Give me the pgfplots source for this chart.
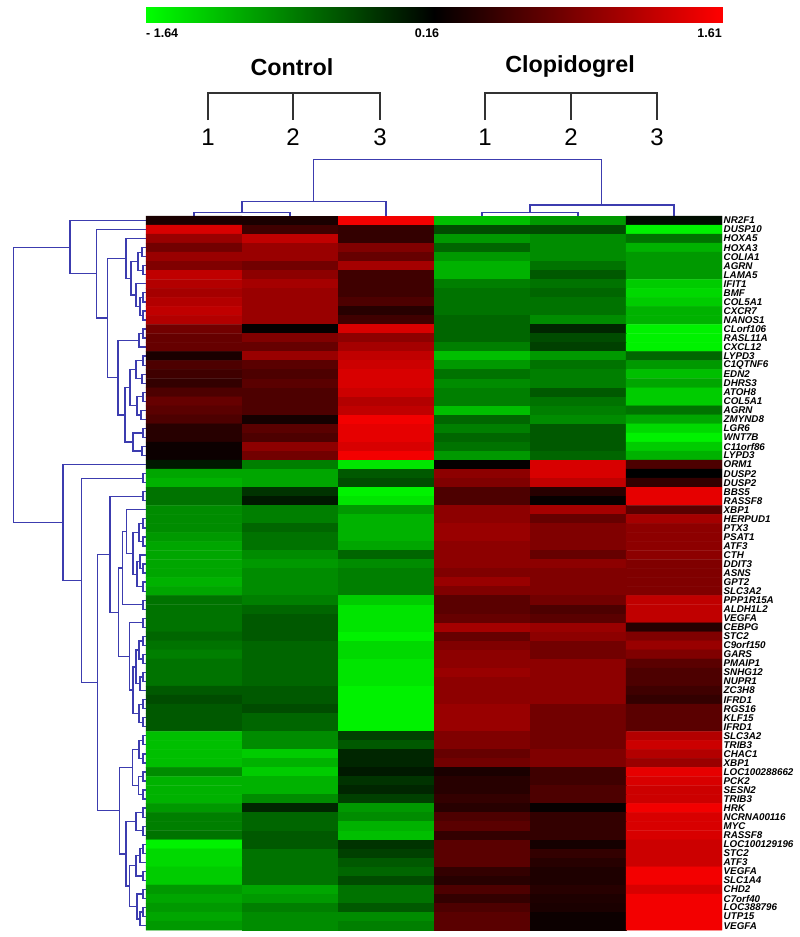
\documentclass[border=0pt]{standalone}
\usepackage{fontspec}
\setmainfont{Liberation Sans}
\usepackage{pgfplots}
\pgfplotsset{compat=1.18}
\definecolor{dendro}{RGB}{60,60,175}
\definecolor{brk}{RGB}{50,50,50}
\begin{document}
\begin{tikzpicture}
\begin{axis}[at={(0,0)}, anchor=south west, scale only axis, width=800pt, height=937pt,
  xmin=0, xmax=800, ymin=0, ymax=937, y dir=reverse, hide axis, clip=false,
  colormap={mev}{rgb255(0pt)=(0,255,0); rgb255(180pt)=(0,0,0); rgb255(325pt)=(255,0,0)},
  point meta min=-1.64, point meta max=1.61, unbounded coords=jump]
% colour bar
\addplot[surf, shader=interp, mesh/cols=3, point meta=explicit] coordinates {
 (146,7) [-1.64] (434,7) [0.16] (722,7) [1.61]
 (146,23) [-1.64] (434,23) [0.16] (722,23) [1.61]};
% group brackets
\addplot[brk, line width=1.4pt] table[header=false, row sep=\\, x index=0, y index=1] {
208 120\\ 208 93\\ 380 93\\ 380 120\\ nan nan\\ 293 93\\ 293 120\\ nan nan\\
485 120\\ 485 93\\ 657 93\\ 657 120\\ nan nan\\ 571 93\\ 571 120\\
};
% column dendrogram
\addplot[dendro, line width=1.4pt] table[header=false, row sep=\\, x index=0, y index=1] {
194 216\\ 194 212.7\\ 290 212.7\\ 290 216\\ nan nan\\
242 212.7\\ 242 201.7\\ 386 201.7\\ 386 216\\ nan nan\\
313.5 201.7\\ 313.5 159.3\\ 601.7 159.3\\ 601.7 205\\ nan nan\\
482 216\\ 482 212.7\\ 578 212.7\\ 578 216\\ nan nan\\
530 212.7\\ 530 205\\ 674 205\\ 674 216\\
};
% row dendrogram
\addplot[dendro, line width=1.3pt] table[header=false, row sep=\\, x index=0, y index=1] {
146 292.84\\ 143 292.84\\ 143 301.88\\ 146 301.88\\ nan nan\\
146 310.92\\ 143 310.92\\ 143 319.96\\ 146 319.96\\ nan nan\\
143 297.36\\ 140 297.36\\ 140 315.44\\ 143 315.44\\ nan nan\\
146 283.80\\ 136 283.80\\ 136 306.40\\ 140 306.40\\ nan nan\\
146 265.72\\ 143 265.72\\ 143 274.76\\ 146 274.76\\ nan nan\\
146 247.64\\ 142 247.64\\ 142 256.68\\ 146 256.68\\ nan nan\\
142 252.16\\ 138 252.16\\ 138 270.24\\ 143 270.24\\ nan nan\\
138 261.20\\ 131 261.20\\ 131 295.10\\ 136 295.10\\ nan nan\\
146 238.60\\ 126 238.60\\ 126 278.15\\ 131 278.15\\ nan nan\\
146 329.00\\ 143 329.00\\ 143 338.04\\ 146 338.04\\ nan nan\\
143 333.52\\ 139 333.52\\ 139 347.08\\ 146 347.08\\ nan nan\\
146 356.12\\ 143 356.12\\ 143 365.16\\ 146 365.16\\ nan nan\\
146 374.20\\ 142 374.20\\ 142 383.24\\ 146 383.24\\ nan nan\\
143 360.64\\ 136 360.64\\ 136 378.72\\ 142 378.72\\ nan nan\\
146 392.28\\ 143 392.28\\ 143 401.32\\ 146 401.32\\ nan nan\\
146 410.36\\ 141 410.36\\ 141 419.40\\ 146 419.40\\ nan nan\\
143 396.80\\ 137 396.80\\ 137 414.88\\ 141 414.88\\ nan nan\\
136 369.68\\ 130 369.68\\ 130 405.84\\ 137 405.84\\ nan nan\\
146 428.44\\ 143 428.44\\ 143 437.48\\ 146 437.48\\ nan nan\\
146 446.52\\ 142 446.52\\ 142 455.56\\ 146 455.56\\ nan nan\\
143 432.96\\ 133 432.96\\ 133 451.04\\ 142 451.04\\ nan nan\\
130 387.76\\ 125 387.76\\ 125 442.00\\ 133 442.00\\ nan nan\\
139 340.30\\ 118 340.30\\ 118 414.88\\ 125 414.88\\ nan nan\\
126 258.38\\ 107.3 258.38\\ 107.3 377.59\\ 118 377.59\\ nan nan\\
146 229.56\\ 96.7 229.56\\ 96.7 317.99\\ 107.3 317.99\\ nan nan\\
146 220.52\\ 70 220.52\\ 70 273.78\\ 96.7 273.78\\ nan nan\\
70 247.15\\ 13.3 247.15\\ 13.3 522.46\\ 63 522.46\\ nan nan\\
146 473.64\\ 143 473.64\\ 143 482.68\\ 146 482.68\\ nan nan\\
146 491.72\\ 143 491.72\\ 143 500.76\\ 146 500.76\\ nan nan\\
146 518.84\\ 143 518.84\\ 143 527.88\\ 146 527.88\\ nan nan\\
146 536.92\\ 143 536.92\\ 143 545.96\\ 146 545.96\\ nan nan\\
143 523.36\\ 139 523.36\\ 139 541.44\\ 143 541.44\\ nan nan\\
146 564.04\\ 143 564.04\\ 143 573.08\\ 146 573.08\\ nan nan\\
146 555.00\\ 140 555.00\\ 140 568.56\\ 143 568.56\\ nan nan\\
146 582.12\\ 143 582.12\\ 143 591.16\\ 146 591.16\\ nan nan\\
140 561.78\\ 137 561.78\\ 137 586.64\\ 143 586.64\\ nan nan\\
139 532.40\\ 133 532.40\\ 133 574.21\\ 137 574.21\\ nan nan\\
146 509.80\\ 126.7 509.80\\ 126.7 553.31\\ 133 553.31\\ nan nan\\
146 600.20\\ 143 600.20\\ 143 609.24\\ 146 609.24\\ nan nan\\
126.7 531.55\\ 122.7 531.55\\ 122.7 604.72\\ 143 604.72\\ nan nan\\
146 618.28\\ 143 618.28\\ 143 627.32\\ 146 627.32\\ nan nan\\
146 636.36\\ 143 636.36\\ 143 645.40\\ 146 645.40\\ nan nan\\
146 654.44\\ 143 654.44\\ 143 663.48\\ 146 663.48\\ nan nan\\
143 640.88\\ 139 640.88\\ 139 658.96\\ 143 658.96\\ nan nan\\
146 672.52\\ 143 672.52\\ 143 681.56\\ 146 681.56\\ nan nan\\
143 677.04\\ 140 677.04\\ 140 690.60\\ 146 690.60\\ nan nan\\
139 649.92\\ 136 649.92\\ 136 683.82\\ 140 683.82\\ nan nan\\
146 699.64\\ 143 699.64\\ 143 708.68\\ 146 708.68\\ nan nan\\
146 717.72\\ 143 717.72\\ 143 726.76\\ 146 726.76\\ nan nan\\
143 704.16\\ 139 704.16\\ 139 722.24\\ 143 722.24\\ nan nan\\
136 666.87\\ 133 666.87\\ 133 713.20\\ 139 713.20\\ nan nan\\
143 622.80\\ 129.3 622.80\\ 129.3 690.04\\ 133 690.04\\ nan nan\\
122.7 568.14\\ 118.3 568.14\\ 118.3 656.42\\ 129.3 656.42\\ nan nan\\
143 496.24\\ 110 496.24\\ 110 612.28\\ 118.3 612.28\\ nan nan\\
146 735.80\\ 143 735.80\\ 143 744.84\\ 146 744.84\\ nan nan\\
146 753.88\\ 143 753.88\\ 143 762.92\\ 146 762.92\\ nan nan\\
143 740.32\\ 139 740.32\\ 139 758.40\\ 143 758.40\\ nan nan\\
146 771.96\\ 143 771.96\\ 143 781.00\\ 146 781.00\\ nan nan\\
146 790.04\\ 143 790.04\\ 143 799.08\\ 146 799.08\\ nan nan\\
143 776.48\\ 138.5 776.48\\ 138.5 794.56\\ 143 794.56\\ nan nan\\
139 749.36\\ 132.7 749.36\\ 132.7 785.52\\ 138.5 785.52\\ nan nan\\
146 808.12\\ 143 808.12\\ 143 817.16\\ 146 817.16\\ nan nan\\
146 826.20\\ 143 826.20\\ 143 835.24\\ 146 835.24\\ nan nan\\
143 812.64\\ 136 812.64\\ 136 830.72\\ 143 830.72\\ nan nan\\
146 844.28\\ 143 844.28\\ 143 853.32\\ 146 853.32\\ nan nan\\
143 848.80\\ 140 848.80\\ 140 862.36\\ 146 862.36\\ nan nan\\
146 871.40\\ 143 871.40\\ 143 880.44\\ 146 880.44\\ nan nan\\
140 855.58\\ 136 855.58\\ 136 875.92\\ 143 875.92\\ nan nan\\
146 889.48\\ 143 889.48\\ 143 898.52\\ 146 898.52\\ nan nan\\
146 907.56\\ 143 907.56\\ 143 916.60\\ 146 916.60\\ nan nan\\
143 912.08\\ 140 912.08\\ 140 925.64\\ 146 925.64\\ nan nan\\
143 894.00\\ 137 894.00\\ 137 918.86\\ 140 918.86\\ nan nan\\
136 865.75\\ 129.3 865.75\\ 129.3 906.43\\ 137 906.43\\ nan nan\\
136 821.68\\ 126 821.68\\ 126 886.09\\ 129.3 886.09\\ nan nan\\
132.7 767.44\\ 119.3 767.44\\ 119.3 853.89\\ 126 853.89\\ nan nan\\
110 554.26\\ 97.3 554.26\\ 97.3 810.66\\ 119.3 810.66\\ nan nan\\
143 478.16\\ 81.7 478.16\\ 81.7 682.46\\ 97.3 682.46\\ nan nan\\
146 464.60\\ 63 464.60\\ 63 580.31\\ 81.7 580.31\\
};
% heatmap: one gene per line, columns Control 1-3, Clopidogrel 1-3
\addplot[matrix plot*, mesh/cols=6, point meta=explicit] table[header=false, row sep=\\,
  x expr={194+96*mod(\coordindex,6)}, y expr={211.48+9.04*(floor((\coordindex+0.5)/6)+1)}, meta index=0] {
0.31\\ 0.31\\ 1.54\\ -1.19\\ -0.92\\ 0.07\\
1.39\\ 0.52\\ 0.45\\ -0.38\\ -0.38\\ -1.55\\
1.03\\ 1.25\\ 0.45\\ -0.92\\ -0.83\\ -0.65\\
0.81\\ 1.03\\ 0.89\\ -0.56\\ -0.83\\ -1.10\\
1.03\\ 1.03\\ 0.74\\ -0.92\\ -0.83\\ -0.92\\
0.89\\ 0.81\\ 1.10\\ -1.10\\ -0.65\\ -0.92\\
1.25\\ 0.96\\ 0.52\\ -1.10\\ -0.47\\ -0.92\\
1.18\\ 1.10\\ 0.52\\ -0.74\\ -0.65\\ -1.28\\
1.10\\ 1.03\\ 0.52\\ -0.65\\ -0.56\\ -1.37\\
1.18\\ 1.03\\ 0.60\\ -0.65\\ -0.65\\ -1.28\\
1.25\\ 1.03\\ 0.38\\ -0.65\\ -0.65\\ -1.10\\
1.18\\ 1.03\\ 0.52\\ -0.56\\ -0.83\\ -1.10\\
0.81\\ 0.19\\ 1.39\\ -0.56\\ -0.11\\ -1.55\\
0.74\\ 0.89\\ 0.96\\ -0.56\\ -0.38\\ -1.55\\
0.74\\ 0.74\\ 1.10\\ -0.74\\ -0.29\\ -1.55\\
0.31\\ 1.03\\ 1.25\\ -1.19\\ -0.92\\ -0.56\\
0.60\\ 0.67\\ 1.32\\ -0.92\\ -0.65\\ -0.92\\
0.52\\ 0.60\\ 1.39\\ -0.65\\ -0.74\\ -1.19\\
0.45\\ 0.67\\ 1.39\\ -0.83\\ -0.74\\ -1.01\\
0.60\\ 0.60\\ 1.32\\ -0.74\\ -0.47\\ -1.28\\
0.74\\ 0.60\\ 1.18\\ -0.74\\ -0.65\\ -1.28\\
0.67\\ 0.60\\ 1.25\\ -1.19\\ -0.74\\ -0.65\\
0.60\\ 0.28\\ 1.54\\ -0.56\\ -0.83\\ -1.01\\
0.38\\ 0.67\\ 1.47\\ -0.74\\ -0.47\\ -1.37\\
0.38\\ 0.60\\ 1.47\\ -0.56\\ -0.47\\ -1.55\\
0.23\\ 0.96\\ 1.39\\ -0.65\\ -0.47\\ -1.28\\
0.23\\ 0.81\\ 1.54\\ -0.92\\ -0.56\\ -1.10\\
-0.02\\ -0.74\\ -1.46\\ 0.19\\ 1.39\\ 0.60\\
-1.01\\ -1.01\\ -0.47\\ 0.96\\ 1.39\\ 0.16\\
-1.10\\ -1.01\\ -0.38\\ 0.89\\ 1.25\\ 0.45\\
-0.65\\ -0.20\\ -1.55\\ 0.60\\ 0.38\\ 1.47\\
-0.65\\ -0.02\\ -1.46\\ 0.60\\ 0.20\\ 1.47\\
-0.83\\ -0.74\\ -0.92\\ 0.96\\ 1.10\\ 0.67\\
-0.83\\ -0.74\\ -1.10\\ 0.96\\ 0.74\\ 1.10\\
-0.83\\ -0.56\\ -1.10\\ 1.03\\ 0.89\\ 0.96\\
-0.92\\ -0.65\\ -1.10\\ 1.03\\ 0.89\\ 0.96\\
-1.01\\ -0.65\\ -1.01\\ 0.96\\ 0.89\\ 0.96\\
-1.01\\ -0.83\\ -0.56\\ 0.96\\ 0.74\\ 0.96\\
-1.01\\ -0.92\\ -0.83\\ 0.96\\ 0.96\\ 0.89\\
-1.01\\ -0.83\\ -0.74\\ 0.89\\ 0.89\\ 0.89\\
-1.10\\ -0.83\\ -0.74\\ 1.03\\ 0.89\\ 0.89\\
-1.01\\ -0.83\\ -0.74\\ 0.89\\ 0.89\\ 0.89\\
-0.65\\ -0.74\\ -1.28\\ 0.67\\ 0.81\\ 1.25\\
-0.65\\ -0.56\\ -1.46\\ 0.67\\ 0.60\\ 1.25\\
-0.65\\ -0.47\\ -1.46\\ 0.74\\ 0.67\\ 1.25\\
-0.65\\ -0.47\\ -1.46\\ 1.10\\ 1.03\\ 0.38\\
-0.56\\ -0.47\\ -1.55\\ 0.74\\ 0.96\\ 0.89\\
-0.65\\ -0.56\\ -1.37\\ 0.89\\ 0.81\\ 1.03\\
-0.74\\ -0.56\\ -1.37\\ 0.96\\ 0.81\\ 0.89\\
-0.65\\ -0.56\\ -1.46\\ 0.96\\ 0.96\\ 0.67\\
-0.65\\ -0.56\\ -1.46\\ 1.03\\ 0.96\\ 0.60\\
-0.65\\ -0.56\\ -1.46\\ 0.96\\ 0.96\\ 0.60\\
-0.47\\ -0.47\\ -1.55\\ 0.96\\ 0.96\\ 0.52\\
-0.38\\ -0.47\\ -1.55\\ 0.96\\ 0.96\\ 0.45\\
-0.47\\ -0.38\\ -1.55\\ 1.03\\ 0.81\\ 0.67\\
-0.47\\ -0.56\\ -1.55\\ 1.03\\ 0.81\\ 0.67\\
-0.47\\ -0.56\\ -1.55\\ 1.03\\ 0.81\\ 0.67\\
-1.19\\ -0.83\\ -0.29\\ 0.89\\ 0.81\\ 1.18\\
-1.19\\ -0.83\\ -0.47\\ 0.89\\ 0.81\\ 1.32\\
-1.19\\ -1.28\\ -0.11\\ 0.74\\ 0.89\\ 1.18\\
-1.19\\ -1.10\\ -0.11\\ 0.81\\ 0.89\\ 1.03\\
-0.83\\ -1.28\\ -0.02\\ 0.31\\ 0.52\\ 1.47\\
-1.10\\ -1.10\\ -0.20\\ 0.38\\ 0.52\\ 1.39\\
-1.10\\ -1.10\\ -0.11\\ 0.38\\ 0.60\\ 1.32\\
-1.10\\ -0.83\\ -0.29\\ 0.45\\ 0.60\\ 1.32\\
-0.92\\ -0.11\\ -0.92\\ 0.38\\ 0.20\\ 1.54\\
-0.74\\ -0.56\\ -0.83\\ 0.60\\ 0.45\\ 1.39\\
-0.74\\ -0.56\\ -1.10\\ 0.67\\ 0.45\\ 1.39\\
-0.65\\ -0.47\\ -1.19\\ 0.45\\ 0.45\\ 1.39\\
-1.55\\ -0.47\\ -0.20\\ 0.67\\ 0.28\\ 1.32\\
-1.37\\ -0.65\\ -0.29\\ 0.67\\ 0.45\\ 1.32\\
-1.37\\ -0.65\\ -0.47\\ 0.67\\ 0.38\\ 1.32\\
-1.28\\ -0.65\\ -0.56\\ 0.45\\ 0.33\\ 1.54\\
-1.28\\ -0.65\\ -0.38\\ 0.38\\ 0.33\\ 1.54\\
-0.92\\ -1.01\\ -0.65\\ 0.60\\ 0.38\\ 1.39\\
-1.01\\ -0.92\\ -0.65\\ 0.45\\ 0.33\\ 1.54\\
-0.92\\ -0.74\\ -0.47\\ 0.60\\ 0.31\\ 1.54\\
-1.01\\ -0.83\\ -0.83\\ 0.67\\ 0.23\\ 1.54\\
-0.92\\ -0.83\\ -0.74\\ 0.67\\ 0.23\\ 1.54\\
};
% texts
\node[font=\bfseries\fontsize{12.5}{13}\selectfont, anchor=west, inner sep=0pt] at (axis cs:146,33) {- 1.64};
\node[font=\bfseries\fontsize{12.5}{13}\selectfont, inner sep=0pt] at (axis cs:427,33) {0.16};
\node[font=\bfseries\fontsize{12.5}{13}\selectfont, anchor=east, inner sep=0pt] at (axis cs:722,33) {1.61};
\node[font=\bfseries\fontsize{23.3}{25}\selectfont] at (axis cs:292,67) {Control};
\node[font=\bfseries\fontsize{23.3}{25}\selectfont] at (axis cs:570,67) {Clopidogrel};
\node[font=\fontsize{24}{26}\selectfont] at (axis cs:208,137) {1};
\node[font=\fontsize{24}{26}\selectfont] at (axis cs:293,137) {2};
\node[font=\fontsize{24}{26}\selectfont] at (axis cs:380,137) {3};
\node[font=\fontsize{24}{26}\selectfont] at (axis cs:485,137) {1};
\node[font=\fontsize{24}{26}\selectfont] at (axis cs:571,137) {2};
\node[font=\fontsize{24}{26}\selectfont] at (axis cs:657,137) {3};
\end{axis}
\foreach \g [count=\i] in {NR2F1,DUSP10,HOXA5,HOXA3,COLIA1,AGRN,LAMA5,IFIT1,BMF,COL5A1,CXCR7,NANOS1,CLorf106,RASL11A,CXCL12,LYPD3,C1QTNF6,EDN2,DHRS3,ATOH8,COL5A1,AGRN,ZMYND8,LGR6,WNT7B,C11orf86,LYPD3,ORM1,DUSP2,DUSP2,BBS5,RASSF8,XBP1,HERPUD1,PTX3,PSAT1,ATF3,CTH,DDIT3,ASNS,GPT2,SLC3A2,PPP1R15A,ALDH1L2,VEGFA,CEBPG,STC2,C9orf150,GARS,PMAIP1,SNHG12,NUPR1,ZC3H8,IFRD1,RGS16,KLF15,IFRD1,SLC3A2,TRIB3,CHAC1,XBP1,LOC100288662,PCK2,SESN2,TRIB3,HRK,NCRNA00116,MYC,RASSF8,LOC100129196,STC2,ATF3,VEGFA,SLC1A4,CHD2,C7orf40,LOC388796,UTP15,VEGFA}
  \node[anchor=west, inner sep=0pt, font=\bfseries\itshape\fontsize{9.8}{9}\selectfont] at (723.5pt, {(725.52-9.04*\i)*1pt}) {\g};
\pgfresetboundingbox
\path (0,0) rectangle (800pt,937pt);
\end{tikzpicture}
\end{document}
